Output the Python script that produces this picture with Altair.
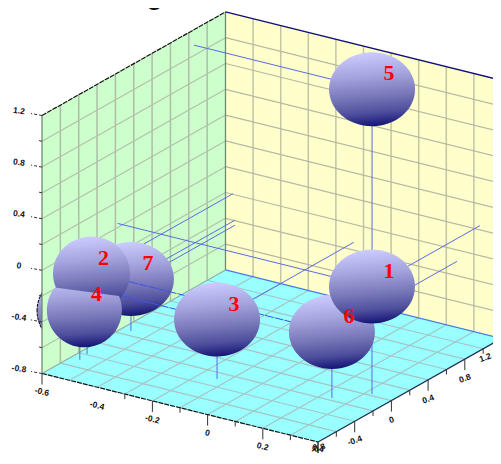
import altair as alt
import numpy as np
import pandas as pd

# ---------- data ----------
TITLE = "Statistike Pokrag"
LABELS = ["1", "2", "3", "4", "5", "6", "7"]
XS = [0.322, -0.573, -0.135, -0.566, 0.045, 0.239, -0.566]
YS = [0.023, -0.342, -0.291, -0.440, 0.857, -0.164, 0.067]
ZS = [0.033, -0.195, -0.339, -0.436, 1.080, -0.288, -0.397]
STEM_YS = [0.023, -0.390, -0.291, -0.490, 0.857, -0.164, 0.067]
HIDDEN = (-0.6, -0.44, -0.459)

X_RANGE = (-0.6, 0.4)
Y_RANGE = (-0.8, 1.2)
Z_RANGE = (-0.8, 1.2)
X_GRID = [-0.6, -0.5, -0.4, -0.3, -0.2, -0.1, 0.0, 0.1, 0.2, 0.3, 0.4]
YZ_GRID = [-0.8, -0.6, -0.4, -0.2, 0.0, 0.2, 0.4, 0.6, 0.8, 1.0, 1.2]
X_MAJOR = [-0.6, -0.4, -0.2, 0.0, 0.2, 0.4]
YZ_MAJOR = [-0.8, -0.4, 0.0, 0.4, 0.8, 1.2]
X_TICK_TEXT = ["-0.6", "-0.4", "-0.2", "0", "0.2", "0.4"]
YZ_TICK_TEXT = ["-0.8", "-0.4", "0", "0.4", "0.8", "1.2"]


# ---------- axonometric projection of the cube ----------
def proj(x, y, z):
    a, b, c = x + 0.6, y + 0.8, z + 0.8
    return 42 + a * 276 + b * 91.75, 373.5 + a * 68.5 - b * 51.8 - c * 129


X = alt.X("sx:Q", scale=alt.Scale(domain=[8, 493], nice=False, zero=False), axis=None)
Y = alt.Y("sy:Q", scale=alt.Scale(domain=[456, 8], nice=False, zero=False), axis=None)


def segs(pairs, color, width=1.0, dash=None):
    rows = []
    for p, q in pairs:
        rows.append({"sx": p[0], "sy": p[1], "ex": q[0], "ey": q[1]})
    kw = dict(color=color, strokeWidth=width)
    if dash:
        kw["strokeDash"] = dash
    return alt.Chart(pd.DataFrame(rows)).mark_rule(**kw).encode(
        x=X, y=Y, x2="ex:Q", y2="ey:Q"
    )


def pair3(p, q):
    return proj(*p), proj(*q)


def area(points, color):
    """Quadrilateral drawn as an area between its lower and upper outline."""
    pts = np.array(points)
    xs = np.unique(pts[:, 0])
    order = np.argsort(pts[:, 0])
    left, right = pts[order[:2]], pts[order[-2:]]
    lo_i = pts[:, 1].argmax()
    hi_i = pts[:, 1].argmin()
    l = pts[order[0]]
    r = pts[order[-1]]
    up = np.array([l, pts[hi_i], r]) if pts[hi_i][0] not in (l[0], r[0]) else None
    dn = np.array([l, pts[lo_i], r]) if pts[lo_i][0] not in (l[0], r[0]) else None
    if up is None or dn is None:  # parallelogram with vertical sides
        top = left[left[:, 1].argmin()], right[right[:, 1].argmin()]
        bot = left[left[:, 1].argmax()], right[right[:, 1].argmax()]
        up = np.array(top)
        dn = np.array(bot)
    df = pd.DataFrame({
        "sx": xs,
        "sy": np.interp(xs, up[:, 0], up[:, 1]),
        "ey": np.interp(xs, dn[:, 0], dn[:, 1]),
    })
    return alt.Chart(df).mark_area(color=color, opacity=1).encode(x=X, y=Y, y2="ey:Q")


STOPS = [
    alt.GradientStop(color="#ccccff", offset=0),
    alt.GradientStop(color="#a6a6e0", offset=0.3),
    alt.GradientStop(color="#7a7abb", offset=0.58),
    alt.GradientStop(color="#4d4d9c", offset=0.82),
    alt.GradientStop(color="#121275", offset=1),
]
SPHERE = alt.LinearGradient(gradient="linear", x1=0.45, x2=0.55, y1=0, y2=1, stops=STOPS)
SPHERE_CUT = alt.LinearGradient(gradient="linear", x1=0.45, x2=0.55, y1=-0.24, y2=1, stops=STOPS)


def ellipse(ratio):
    return f"M -1 0 A 1 {ratio} 0 1 1 1 0 A 1 {ratio} 0 1 1 -1 0 Z"


WIDE = ellipse(0.86)
ROUND = ellipse(0.96)
CUT = "M -0.789 -0.605 L 0.923 -0.378 A 1 0.987 0 1 1 -0.789 -0.605 Z"


def sphere(p, shape, rx, fill=SPHERE, **kw):
    sx, sy = proj(*p)
    return alt.Chart(pd.DataFrame({"sx": [sx], "sy": [sy]})).mark_point(
        shape=shape, size=(2 * rx) ** 2, filled=True, fill=fill, opacity=1, **kw
    ).encode(x=X, y=Y)


def ball(i):
    return XS[i], YS[i], ZS[i]


def x_line(i):
    return pair3((XS[i], YS[i], ZS[i]), (X_RANGE[0], YS[i], ZS[i]))


def y_line(i):
    return pair3((XS[i], YS[i], ZS[i]), (XS[i], Y_RANGE[1], ZS[i]))


def stem(i):
    return pair3((XS[i], STEM_YS[i], ZS[i]), (XS[i], STEM_YS[i], Z_RANGE[0]))


x0, x1 = X_RANGE
y0, y1 = Y_RANGE
z0, z1 = Z_RANGE

layers = []
# sphere poking out behind the left wall
layers.append(sphere(HIDDEN, ROUND, 38, stroke="#000000", strokeWidth=1, strokeDash=[3, 1]))

# panes
layers.append(area([proj(x0, y0, z1), proj(x0, y1, z1), proj(x0, y1, z0), proj(x0, y0, z0)], "#ccffcc"))
layers.append(area([proj(x0, y1, z1), proj(x1, y1, z1), proj(x1, y1, z0), proj(x0, y1, z0)], "#ffffcc"))
layers.append(area([proj(x0, y0, z0), proj(x1, y0, z0), proj(x1, y1, z0), proj(x0, y1, z0)], "#99ffff"))

# grids
layers.append(segs([pair3((x0, v, z0), (x0, v, z1)) for v in YZ_GRID[1:-1]], "#aebda8", 1.5))
layers.append(segs([pair3((x0, y0, v), (x0, y1, v)) for v in YZ_GRID[1:-1]], "#b3c0aa", 1.2))
layers.append(segs([pair3((v, y1, z0), (v, y1, z1)) for v in X_GRID[1:-1]], "#c4c4a6", 1.5))
layers.append(segs([pair3((x0, y1, v), (x1, y1, v)) for v in YZ_GRID[1:-1]], "#b8b8a4", 1.2))
layers.append(segs([pair3((v, y0, z0), (v, y1, z0)) for v in X_GRID[1:-1]], "#a6c4c4", 1.2))
layers.append(segs([pair3((x0, v, z0), (x1, v, z0)) for v in YZ_GRID[1:-1]], "#a6c4c4", 1.2))

# cube edges
layers.append(segs([pair3((x0, y0, z0), (x0, y0, z1)), pair3((x0, y1, z0), (x0, y1, z1))], "#6f8a6f", 1.3))
layers.append(segs([pair3((x0, y0, z1), (x0, y1, z1))], "#111111", 1.2, [5, 1]))
layers.append(segs([pair3((x0, y1, z1), (x1, y1, z1))], "#10107a", 1.4))
layers.append(segs([pair3((x0, y1, z0), (x1, y1, z0))], "#4a78f0", 1.2))
layers.append(segs([pair3((x0, y0, z0), (x0, y1, z0))], "#8fb0a0", 1.2))
layers.append(segs([pair3((x0, y0, z0), (x1, y0, z0))], "#111111", 1.2, [5, 1]))
layers.append(segs([pair3((x1, y0, z0), (x1, y1, z0))], "#1a2a50", 1.2))


# ticks
def shifted(p, dx, dy):
    sx, sy = proj(*p)
    return (sx, sy), (sx + dx, sy + dy)


x_ticks = [v for v in X_GRID if v > -0.35]
layers.append(segs([shifted((v, y0, z0), 0, 11 if v in X_MAJOR else 5) for v in x_ticks] + [shifted((x0, y0, z0), 0, 11)], "#333333", 1))
layers.append(segs([shifted((x1, v, z0), 0, 11 if v in YZ_MAJOR else 5) for v in YZ_GRID], "#333333", 1))
layers.append(segs([shifted((x0, y0, v), -11 if v in YZ_MAJOR else -4, -2 if v in YZ_MAJOR else -1) for v in YZ_GRID], "#333333", 1, [3, 2]))


def tick_text(points, texts, dx, dy, angle):
    rows = [{"sx": min(proj(*p)[0] + dx, 485), "sy": min(proj(*p)[1] + dy, 448), "t": t} for p, t in zip(points, texts)]
    return alt.Chart(pd.DataFrame(rows)).mark_text(
        font="Liberation Sans", fontSize=8.5, fontWeight="bold", color="#111111", angle=angle
    ).encode(x=X, y=Y, text="t:N")


layers.append(tick_text([(v, y0, z0) for v in X_MAJOR], X_TICK_TEXT, 0, 18, 14))
layers.append(tick_text([(x1, v, z0) for v in YZ_MAJOR], YZ_TICK_TEXT, 0, 19, 340))
layers.append(tick_text([(x0, y0, v) for v in YZ_MAJOR], YZ_TICK_TEXT, -23, -5, 8))

# lines running behind everything
LINE = "#5a6ce0"
back = []
for i in range(7):
    back.append(stem(i))
    back.append(y_line(i))
back.append(x_line(0))
back.append(x_line(4))
layers.append(segs(back, LINE, 1))

layers.append(sphere(ball(6), WIDE, 43))
layers.append(segs([x_line(2), x_line(5)], "#3d55e8", 1, [9, 1]))
layers.append(sphere(ball(4), WIDE, 43))
layers.append(sphere(ball(1), ROUND, 38.5))
layers.append(sphere(ball(3), CUT, 37.5, fill=SPHERE_CUT))
layers.append(sphere(ball(2), WIDE, 43))
layers.append(sphere(ball(5), WIDE, 43))
layers.append(sphere(ball(0), WIDE, 43))

# sphere numbers
rows = []
for i, t in enumerate(LABELS):
    sx, sy = proj(*ball(i))
    shift = 12 if i in (1, 3) else 17
    rows.append({"sx": sx + shift, "sy": sy - 16, "t": t})
layers.append(alt.Chart(pd.DataFrame(rows)).mark_text(
    font="Liberation Serif", fontSize=22, fontWeight="bold", color="#ff0000"
).encode(x=X, y=Y, text="t:N"))

# title, almost entirely above the picture
layers.append(alt.Chart(pd.DataFrame({"sx": [163], "sy": [4], "t": [TITLE]})).mark_text(
    font="Liberation Sans", fontSize=30, color="#111111", align="right", baseline="alphabetic"
).encode(x=X, y=Y, text="t:N"))

chart = alt.layer(*layers).properties(
    width=485, height=448, padding=0, autosize=alt.AutoSizeParams(type="none")
).configure_view(stroke=None)

chart.save("out.html", embed_options={"renderer": "svg", "actions": False})
